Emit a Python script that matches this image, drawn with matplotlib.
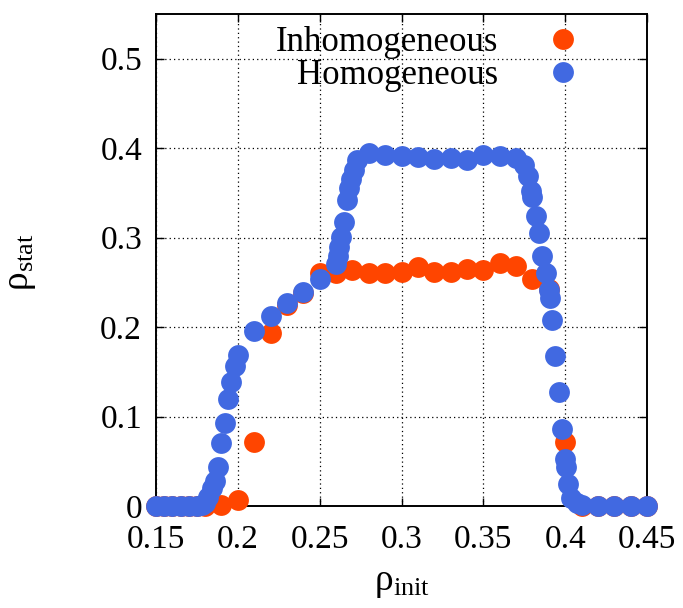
import matplotlib
matplotlib.use("Agg")
import matplotlib.pyplot as plt
from matplotlib.lines import Line2D

plt.rcParams['font.family'] = ['Liberation Serif', 'DejaVu Serif']
plt.rcParams['mathtext.fontset'] = 'stix'

# Inhomogeneous (orange)
inh_x = [0.15, 0.155, 0.16, 0.165, 0.17, 0.175, 0.18, 0.19, 0.20, 0.21, 0.22, 0.23,
         0.24, 0.25, 0.26, 0.27, 0.28, 0.29, 0.30, 0.31, 0.32, 0.33, 0.34, 0.35,
         0.36, 0.37, 0.38, 0.39, 0.40, 0.41, 0.42, 0.43, 0.44, 0.45]
inh_y = [0, 0, 0, 0, 0, 0, 0, 0.001, 0.0067, 0.071, 0.193, 0.225,
         0.238, 0.260, 0.261, 0.264, 0.261, 0.261, 0.262, 0.2677, 0.262, 0.262, 0.2647, 0.264,
         0.2714, 0.2685, 0.2536, 0.243, 0.072, 0, 0, 0, 0, 0]

# Homogeneous (blue)
hom_x = [0.15, 0.155, 0.16, 0.165, 0.17, 0.175, 0.178, 0.18, 0.182, 0.184, 0.186, 0.188,
         0.19, 0.192, 0.194, 0.196, 0.198, 0.20, 0.21, 0.22, 0.23, 0.24, 0.25,
         0.26, 0.261, 0.262, 0.263, 0.265, 0.267, 0.268, 0.269, 0.271, 0.273,
         0.28, 0.29, 0.30, 0.31, 0.32, 0.33, 0.34, 0.35, 0.36, 0.37,
         0.375, 0.377, 0.379, 0.3795, 0.382, 0.384, 0.386, 0.388, 0.39, 0.3905,
         0.392, 0.394, 0.396, 0.398, 0.40, 0.4005, 0.402, 0.4036, 0.407, 0.41,
         0.42, 0.43, 0.44, 0.45]
hom_y = [0, 0, 0, 0, 0, 0, 0.001, 0.003, 0.01, 0.02, 0.028, 0.044,
         0.07, 0.093, 0.12, 0.139, 0.156, 0.169, 0.1957, 0.2125, 0.2267, 0.2397, 0.2535,
         0.270, 0.280, 0.290, 0.3005, 0.318, 0.342, 0.355, 0.365, 0.376, 0.387,
         0.3945, 0.3926, 0.391, 0.3907, 0.388, 0.389, 0.3863, 0.3926, 0.3915, 0.389,
         0.381, 0.369, 0.352, 0.345, 0.324, 0.305, 0.280, 0.260, 0.242, 0.232,
         0.208, 0.168, 0.127, 0.086, 0.052, 0.044, 0.025, 0.009, 0.003, 0.001,
         0, 0, 0, 0]

xticks = [0.15, 0.2, 0.25, 0.3, 0.35, 0.4, 0.45]
xticklabels = ['0.15', '0.2', '0.25', '0.3', '0.35', '0.4', '0.45']
yticks = [0, 0.1, 0.2, 0.3, 0.4, 0.5]
yticklabels = ['0', '0.1', '0.2', '0.3', '0.4', '0.5']

c_inh = '#FF4500'
c_hom = '#4169E1'

fig = plt.figure(figsize=(6.83, 6.08), dpi=100)
ax = fig.add_axes([156/683, 1-506/608, 491/683, 492/608])

ms = 15
ax.plot(inh_x, inh_y, 'o', color=c_inh, markersize=ms, markeredgewidth=0, clip_on=False, zorder=3)
ax.plot(hom_x, hom_y, 'o', color=c_hom, markersize=ms, markeredgewidth=0, clip_on=False, zorder=4)

ax.set_xlim(0.15, 0.45)
ax.set_ylim(0, 0.55)
ax.set_xticks(xticks)
ax.set_xticklabels(xticklabels)
ax.set_yticks(yticks)
ax.set_yticklabels(yticklabels)
ax.tick_params(direction='in', length=6, width=1.0, top=True, right=True,
               labelsize=24, colors='black')
ax.tick_params(axis='x', pad=13)
ax.tick_params(axis='y', pad=10)
ax.grid(True, color='black', linestyle=(0, (1, 2.5)), linewidth=0.9)
ax.set_axisbelow(True)
for s in ax.spines.values():
    s.set_linewidth(1.4)

ax.set_xlabel(r'$\mathregular{ρ_{init}}$', fontsize=27)
ax.xaxis.set_label_coords(0.5, -0.12)
ax.set_ylabel(r'$\mathregular{ρ_{stat}}$', fontsize=27, rotation=90)
ax.yaxis.set_label_coords(-0.24, 0.496)

handles = [Line2D([], [], marker='o', linestyle='none', color=c_inh, markersize=ms, markeredgewidth=0),
           Line2D([], [], marker='o', linestyle='none', color=c_hom, markersize=ms, markeredgewidth=0)]
leg = ax.legend(handles, ['Inhomogeneous', 'Homogeneous'], loc='upper right',
                bbox_to_anchor=(0.914, 0.99), markerfirst=False, frameon=False,
                fontsize=25, handlelength=2.0, handletextpad=0.86, labelspacing=0.0,
                borderaxespad=0.0, borderpad=0.2)
for t in leg.get_texts():
    t.set_ha('right')

fig.savefig('out.png', dpi=100)
